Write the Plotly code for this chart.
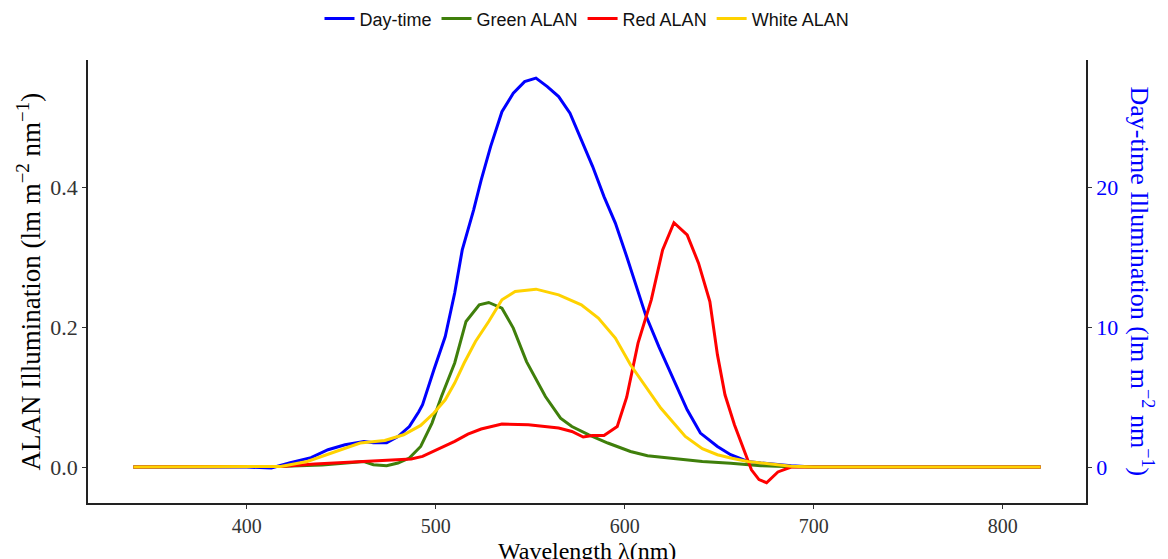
import plotly.graph_objects as go

# Day-time spectrum (right axis, lm m^-2 nm^-1)
day_wl = [340, 400, 413, 423, 434, 443, 452, 462, 467, 474, 480, 486, 491, 493,
          499, 505, 510, 514, 520, 524, 529, 535, 541, 547, 553, 559, 565, 571,
          577, 583, 589, 595, 601, 605, 611, 618, 626, 633, 640, 649, 656, 665,
          672, 688, 700, 820]
day_val = [0, 0, -0.07, 0.31, 0.67, 1.24, 1.6, 1.82, 1.74, 1.74, 2.18, 2.9, 3.96, 4.46,
           6.97, 9.35, 12.46, 15.55, 18.4, 20.55, 22.95, 25.45, 26.77, 27.6, 27.85, 27.24,
           26.53, 25.34, 23.43, 21.52, 19.37, 17.47, 15.08, 13.41, 10.9, 8.63, 6.25, 4.1,
           2.43, 1.47, 0.88, 0.4, 0.29, 0.09, 0, 0]

# Green ALAN spectrum (left axis)
green_wl = [340, 400, 420, 440, 452, 462, 467, 474, 480, 486, 492, 498, 503, 510,
            516, 523, 528, 535, 541, 548, 558, 566, 572, 581, 591, 603, 612, 619,
            632, 641, 656, 672, 688, 700, 820]
green_val = [0, 0, 0.001, 0.003, 0.006, 0.008, 0.0033, 0.0019, 0.0057, 0.0129, 0.0295,
             0.063, 0.101, 0.149, 0.2085, 0.2324, 0.2357, 0.2276, 0.199, 0.151, 0.101,
             0.0701, 0.0581, 0.0462, 0.0344, 0.0223, 0.0162, 0.0143, 0.0105, 0.008,
             0.0054, 0.0019, 0.0004, 0, 0]

# Red ALAN spectrum (left axis)
red_wl = [340, 400, 418, 436, 462, 475, 487, 493, 501, 510, 517, 524, 535, 549,
          565, 572, 578, 583, 589, 596, 601, 607, 614, 620, 626, 633, 639, 645,
          649, 653, 658, 663, 667, 671, 675, 681, 688, 700, 820]
red_val = [0, 0, 0.0009, 0.0043, 0.008, 0.009, 0.0115, 0.0152, 0.0258, 0.0367, 0.0472,
           0.0544, 0.0616, 0.0606, 0.0558, 0.051, 0.043, 0.0452, 0.0452, 0.0581, 0.10,
           0.1775, 0.2395, 0.311, 0.350, 0.3326, 0.292, 0.237, 0.161, 0.1035, 0.0606,
           0.0248, -0.004, -0.018, -0.0225, -0.007, 0, 0, 0]

# White ALAN spectrum (left axis)
white_wl = [340, 400, 418, 432, 445, 460, 473, 483, 492, 499, 505, 510, 515, 521,
            528, 535, 542, 553, 565, 577, 586, 595, 603, 612, 619, 632, 641, 649,
            656, 665, 672, 688, 700, 820]
white_val = [0, 0, 0.0009, 0.008, 0.02, 0.0344, 0.038, 0.0462, 0.0596, 0.0773, 0.0963,
             0.1203, 0.149, 0.1798, 0.2084, 0.2395, 0.2514, 0.2548, 0.2467, 0.2324,
             0.2133, 0.1847, 0.1465, 0.1107, 0.0845, 0.0438, 0.0262, 0.0176, 0.0129,
             0.008, 0.0057, 0.001, 0, 0]

x_ticks = [400, 500, 600, 700, 800]
alan_ticks = [0.0, 0.2, 0.4]
day_ticks = [0, 10, 20]

SERIF = "Liberation Serif, Times New Roman, serif"
SANS = "Liberation Sans, Arial, sans-serif"
LW = 3

fig = go.Figure()

# Day-time curve sits on the base y axis (drawn underneath), shown on the right
fig.add_trace(go.Scatter(x=day_wl, y=day_val, mode="lines", name="Day-time",
                         line=dict(color="#0000FF", width=LW), yaxis="y"))
fig.add_trace(go.Scatter(x=green_wl, y=green_val, mode="lines", name="Green ALAN",
                         line=dict(color="#3F7F0B", width=LW), yaxis="y2"))
fig.add_trace(go.Scatter(x=red_wl, y=red_val, mode="lines", name="Red ALAN",
                         line=dict(color="#FF0000", width=LW), yaxis="y2"))
fig.add_trace(go.Scatter(x=white_wl, y=white_val, mode="lines", name="White ALAN",
                         line=dict(color="#FFD200", width=LW), yaxis="y2"))

alan_range = [-0.0515, 0.583]
scale = 50.0

axis_common = dict(showgrid=False, zeroline=False, showline=True, linecolor="#222222",
                   linewidth=1.5, ticks="outside", ticklen=4, tickwidth=1.2,
                   tickcolor="#333333")

fig.update_layout(
    width=1168, height=559,
    margin=dict(l=88, r=82, t=60, b=56, autoexpand=False),
    paper_bgcolor="white", plot_bgcolor="white",
    showlegend=True,
    legend=dict(orientation="h", x=0.5, xanchor="center", y=1.093, yanchor="middle",
                font=dict(family=SANS, size=18, color="#111111"),
                itemwidth=30, tracegroupgap=0, bgcolor="rgba(0,0,0,0)"),
    xaxis=dict(range=[316, 844], tickvals=x_ticks,
               tickfont=dict(family=SERIF, size=20, color="#333333"),
               **axis_common),
    yaxis=dict(range=[alan_range[0] * scale, alan_range[1] * scale], side="right",
               tickvals=day_ticks,
               tickfont=dict(family=SERIF, size=22, color="#0000FF"),
               **axis_common),
    yaxis2=dict(range=alan_range, side="left", overlaying="y", tickvals=alan_ticks,
                tickformat=".1f",
                tickfont=dict(family=SERIF, size=22, color="#333333"),
                **axis_common),
    annotations=[
        dict(text="ALAN Illumination (lm m<sup>\u22122</sup> nm<sup>\u22121</sup>)",
             xref="paper", yref="paper", x=-0.0601, y=0.5, textangle=-90,
             xanchor="center", yanchor="middle", showarrow=False,
             font=dict(family=SERIF, size=27, color="#000000")),
        dict(text="Day-time Illumination (lm m<sup>\u22122</sup> nm<sup>\u22121</sup>)",
             xref="paper", yref="paper", x=1.0551, y=0.5, textangle=90,
             xanchor="center", yanchor="middle", showarrow=False,
             font=dict(family=SERIF, size=26, color="#0000FF")),
        dict(text="Wavelength \u03bb(nm)",
             xref="paper", yref="paper", x=0.5, y=-0.109,
             xanchor="center", yanchor="middle", showarrow=False,
             font=dict(family=SERIF, size=24, color="#000000")),
    ],
)

fig.write_html("out.html")
